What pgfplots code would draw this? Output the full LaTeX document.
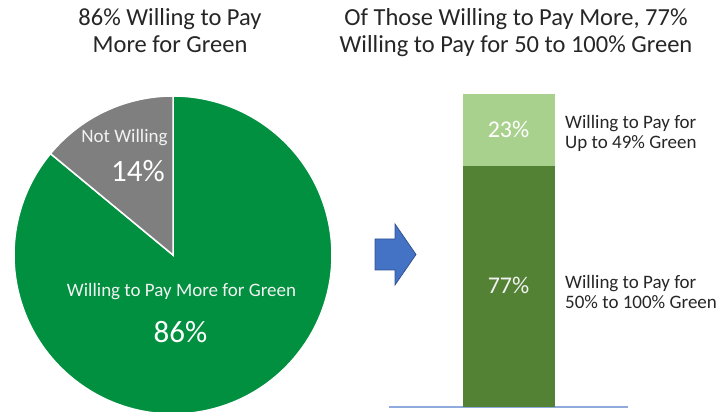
\documentclass[border=0pt]{standalone}
\usepackage{fontspec}
\setmainfont{Carlito}
\usepackage{pgfplots}
\pgfplotsset{compat=1.18}

\definecolor{piegreen}{HTML}{00903F}
\definecolor{piegray}{HTML}{7F7F7F}
\definecolor{barlight}{HTML}{A9D18E}
\definecolor{bardark}{HTML}{548235}
\definecolor{arrowblue}{HTML}{4472C4}
\definecolor{arrowedge}{HTML}{2F528F}
\definecolor{baseblue}{HTML}{8FAADC}
\definecolor{titlegray}{HTML}{262626}

\newcommand{\fs}[1]{\fontsize{#1pt}{#1pt}\selectfont}

% pie shares (percent)
\def\pienot{14}
\def\piewill{86}

\begin{document}
\begin{tikzpicture}[x=1pt,y=1pt]
\useasboundingbox (0,0) rectangle (718,412);
\clip (0,0) rectangle (718,412);
\pgfmathsetmacro{\angsplit}{90+3.6*\pienot}

% pie
\begin{axis}[at={(14pt,-2pt)}, anchor=south west, scale only axis,
  width=318pt, height=318pt, xmin=-1, xmax=1, ymin=-1, ymax=1,
  hide axis, clip=false]
\fill[piegreen, draw=white, line width=1.5pt] (axis cs:0,0) -- ++(\angsplit:159pt)
  arc[start angle=\angsplit, end angle=450, radius=159pt] -- cycle;
\fill[piegray, draw=white, line width=1.5pt] (axis cs:0,0) -- ++(90:159pt)
  arc[start angle=90, end angle=\angsplit, radius=159pt] -- cycle;
\end{axis}

% stacked bar
\begin{axis}[at={(389pt,5pt)}, anchor=south west, scale only axis,
  width=239pt, height=313pt, xmin=-1, xmax=1, ymin=0, ymax=100,
  ybar stacked, bar width=92pt, hide axis, clip=false]
\addplot[fill=bardark, draw=none] coordinates {(0,77)};
\addplot[fill=barlight, draw=none] coordinates {(0,23)};
\draw[baseblue, line width=1.5pt] (axis cs:-1,0) -- (axis cs:1,0);
\end{axis}

% arrow
\filldraw[fill=arrowblue, draw=arrowedge, line width=0.75pt]
  (375,173) -- (395,173) -- (395,188) -- (416,157.5) -- (395,127) -- (395,142) -- (375,142) -- cycle;

% titles
\begin{scope}[every node/.style={anchor=base, inner sep=0pt, text=titlegray, font=\fs{24.5}}]
\node at (170,386) {86\% Willing to Pay};
\node at (170,359) {More for Green};
\node at (516,386) {Of Those Willing to Pay More, 77\%};
\node at (516,359) {Willing to Pay for 50 to 100\% Green};
\end{scope}

% pie labels
\begin{scope}[every node/.style={anchor=base, inner sep=0pt}]
\node[text=white!95!black, font=\fs{19}] at (124.5,269) {Not Willing};
\node[text=white, font=\fs{31}] at (138,230) {14\%};
\node[text=white!95!black, font=\fs{19}] at (181.5,115) {Willing to Pay More for Green};
\node[text=white, font=\fs{31}] at (180.5,69) {86\%};
% bar labels
\node[text=white, font=\fs{24}] at (508.5,274) {23\%};
\node[text=white!95!black, font=\fs{24}] at (508.5,118) {77\%};
\end{scope}

\begin{scope}[every node/.style={anchor=base west, inner sep=0pt, text=titlegray, font=\fs{19}}]
\node at (565,283) {Willing to Pay for};
\node at (565,263) {Up to 49\% Green};
\node at (565,123) {Willing to Pay for};
\node at (565,103) {50\% to 100\% Green};
\end{scope}
\end{tikzpicture}
\end{document}
